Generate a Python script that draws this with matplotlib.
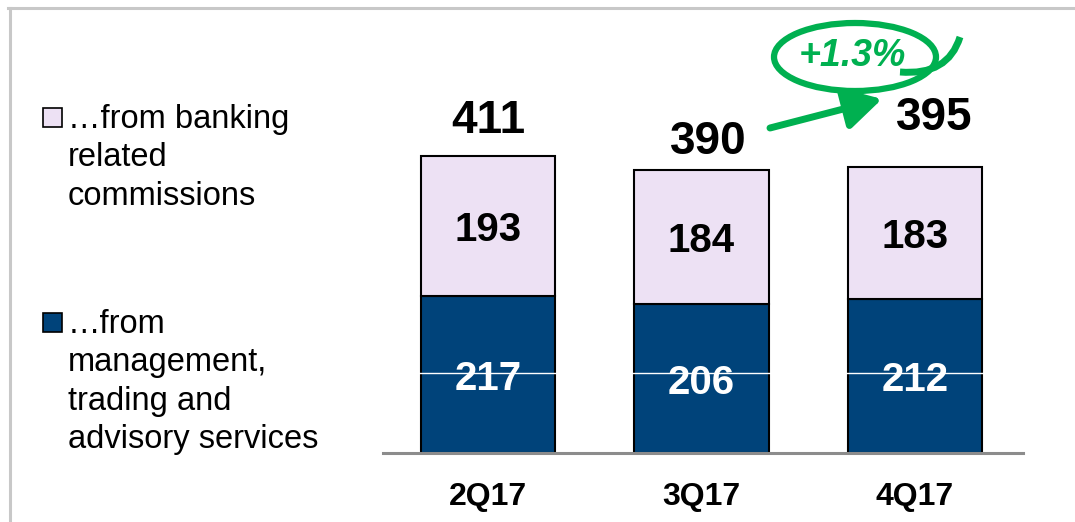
import numpy as np
import matplotlib
matplotlib.use('Agg')
import matplotlib.pyplot as plt
from matplotlib.patches import Rectangle, Ellipse, FancyArrowPatch, PathPatch
from matplotlib.path import Path
from matplotlib.lines import Line2D

plt.rcParams['font.family'] = ['Liberation Sans', 'DejaVu Sans']

# data
quarters = ['2Q17', '3Q17', '4Q17']
management = [217, 206, 212]
banking = [193, 184, 183]
totals = [411, 390, 395]
growth_label = '+1.3%'
legend_banking = ['\u2026from banking', 'related', 'commissions']
legend_management = ['\u2026from', 'management,', 'trading and', 'advisory services']

W, H = 1075, 522
light = '#EDE1F4'
dark = '#00437A'
green = '#00B050'


def px(x, y):
    # pixel (from top-left) -> figure fraction
    return (x / W, 1 - y / H)


fig = plt.figure(figsize=(W / 100, H / 100), dpi=100)
ax = fig.add_axes([383 / W, (H - 453) / H, 640 / W, 445 / H])

x = np.arange(len(quarters))
ax.bar(x, management, width=0.632, color=dark, edgecolor='black', linewidth=1.5, zorder=2)
ax.bar(x, banking, bottom=management, width=0.632, color=light, edgecolor='black',
       linewidth=1.5, zorder=2)
ax.axhline(110, color='white', linewidth=1, zorder=3)

for i in range(len(quarters)):
    ax.annotate(str(management[i]), xy=(x[i], management[i] / 2), xytext=(0, -3),
                textcoords='offset points', ha='center', va='center',
                fontsize=29, fontweight='bold', color='white', zorder=4)
    ax.annotate(str(banking[i]), xy=(x[i], management[i] + banking[i] / 2), xytext=(0, -3),
                textcoords='offset points', ha='center', va='center',
                fontsize=29, fontweight='bold', color='black', zorder=4)

tot_offsets = [(0, 16.5), (5, 12), (13.7, 26.6)]
for i in range(len(quarters)):
    ax.annotate(str(totals[i]), xy=(x[i], management[i] + banking[i]),
                xytext=tot_offsets[i], textcoords='offset points',
                ha='center', va='baseline', fontsize=33, fontweight='bold')

ax.set_xlim(-0.492, 2.506)
ax.set_ylim(0, 614)
ax.set_xticks(x)
ax.set_xticklabels(quarters, fontsize=23, fontweight='bold')
ax.tick_params(axis='x', length=0, pad=21)
ax.set_yticks([])
for s in ['top', 'left', 'right']:
    ax.spines[s].set_visible(False)
ax.spines['bottom'].set_color('#8C8C8C')
ax.spines['bottom'].set_linewidth(2.2)

# frame lines
fig.add_artist(Line2D([8 / W, 1], [1 - 8 / H] * 2, color='#C8C8C8', lw=2.2,
                      transform=fig.transFigure))
fig.add_artist(Line2D([10 / W] * 2, [0, 1 - 8 / H], color='#C8C8C8', lw=2.2,
                      transform=fig.transFigure))

# legend
for top, color, lines in [(108, light, legend_banking), (313, dark, legend_management)]:
    fig.add_artist(Rectangle(px(43, top + 19), 19 / W, 19 / H, facecolor=color,
                             edgecolor='black', lw=1.2, transform=fig.transFigure))
    for k, line in enumerate(lines):
        fig.text(*px(68, top + 20 + k * 38.3), line, fontsize=23.5, va='baseline', ha='left')

# growth annotation
arrow = FancyArrowPatch(px(770, 128), px(882, 99), transform=fig.transFigure,
                        arrowstyle='-|>,head_length=1.6,head_width=0.9',
                        mutation_scale=14, color=green, lw=5, shrinkA=0, shrinkB=0)
fig.add_artist(arrow)
fig.add_artist(Ellipse(px(855, 57), 162 / W, 68 / H, angle=0, fill=False,
                       edgecolor=green, lw=4.5, transform=fig.transFigure))
verts = [px(900, 72), px(948, 76), px(960, 37)]
flick = Path(verts, [Path.MOVETO, Path.CURVE3, Path.CURVE3])
fig.add_artist(PathPatch(flick, fill=False, edgecolor=green, lw=5, transform=fig.transFigure))
fig.text(*px(852, 56), growth_label, fontsize=27, fontweight='bold', fontstyle='italic',
         color=green, ha='center', va='center')

fig.savefig('out.png', dpi=100)
